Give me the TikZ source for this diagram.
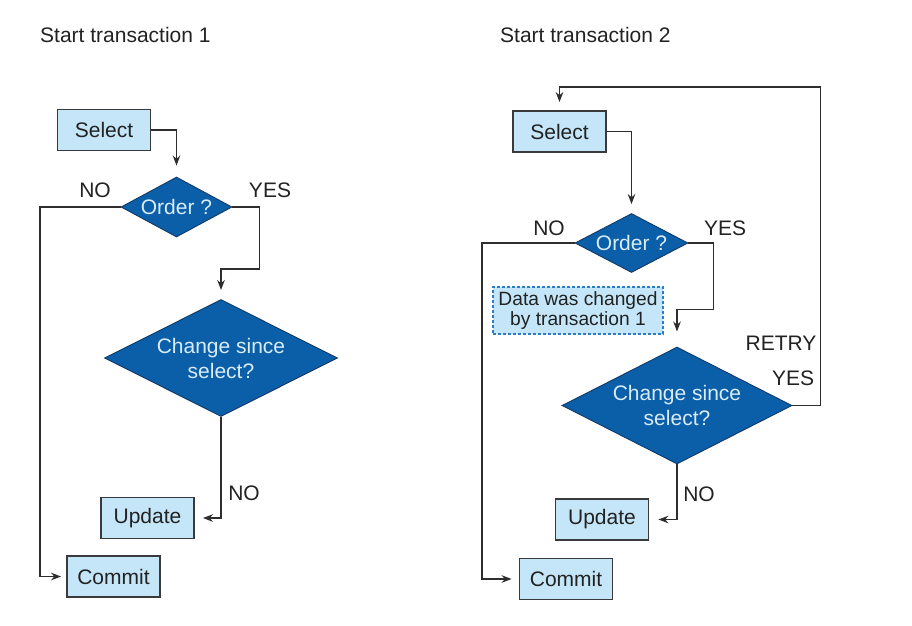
\documentclass[tikz,border=0pt]{standalone}
\usepackage{fontspec}
\setmainfont{Liberation Sans}
\usetikzlibrary{shapes.geometric,arrows.meta}
\definecolor{boxfill}{HTML}{C4E6F8}
\definecolor{boxline}{HTML}{3A3A3A}
\definecolor{diafill}{HTML}{0B5EA8}
\definecolor{diaedge}{HTML}{123A66}
\definecolor{diatext}{HTML}{D8ECFA}
\definecolor{linec}{HTML}{2E2E2E}
\definecolor{txt}{HTML}{222222}
\definecolor{dotc}{HTML}{2A7DC8}
\begin{document}
\begin{tikzpicture}[x=1pt,y=-1pt,
 font=\fontsize{21}{24}\selectfont,
 box/.style={draw=boxline,fill=boxfill,line width=1.8pt,minimum width=93pt,minimum height=41pt,inner sep=0pt,text=txt},
 dia/.style={diamond,draw=diaedge,fill=diafill,line width=0.9pt,inner sep=0pt,text=diatext,align=center,font=\fontsize{21}{25}\selectfont},
 lbl/.style={text=txt,inner sep=0pt},
 arr/.style={draw=linec,line width=1.8pt,-{Stealth[length=10pt,width=7.5pt]}},
 databox/.style={draw=dotc,fill=boxfill,line width=2.2pt,dash pattern=on 3pt off 2pt,minimum width=170pt,minimum height=47pt,inner sep=0pt,align=center,text=txt,font=\fontsize{19.2}{20}\selectfont},
]
\useasboundingbox (0,0) rectangle (912,625);

% titles
\node[lbl,anchor=west] (t1) at (40,35) {Start transaction 1};
\node[lbl,anchor=west] (t2) at (500,35) {Start transaction 2};

% left flow
\node[box] (sel1) at (104,130) {Select};
\node[dia,minimum width=111pt,minimum height=60pt,shape aspect=1.85] (ord1) at (176.5,207) {Order ?};
\node[dia,minimum width=233pt,minimum height=117pt,shape aspect=2] (chg1) at (221,358) {Change since\\select?};
\node[box] (upd1) at (147.5,518) {Update};
\node[box] (com1) at (113.5,576.5) {Commit};

\node[lbl] (no1a) at (95,190) {NO};
\node[lbl] (yes1a) at (270,190) {YES};
\node[lbl] (no1b) at (244,493) {NO};

\draw[arr,shorten >=11pt] (sel1.east) -| (ord1.north);
\draw[arr,shorten >=9pt] (ord1.east) -- ++(27,0) |- ([yshift=30pt]chg1.north) -- (chg1.north);
\draw[arr,shorten >=5pt] (ord1.west) -| ([xshift=-26pt]com1.west) -- (com1.west);
\draw[arr,shorten >=8pt] (chg1.south) |- (upd1.east);

% right flow
\node[box] (sel2) at (559.5,131.5) {Select};
\node[dia,minimum width=113pt,minimum height=59pt,shape aspect=1.9] (ord2) at (631.5,243) {Order ?};
\node[dia,minimum width=230pt,minimum height=117pt,shape aspect=2] (chg2) at (677,405.5) {Change since\\select?};
\node[box] (upd2) at (602,519.5) {Update};
\node[box] (com2) at (566,579) {Commit};
\node[databox] (data) at (578,310.5) {Data was changed\\by transaction 1};

\node[lbl] (no2a) at (549,228) {NO};
\node[lbl] (yes2a) at (725,228) {YES};
\node[lbl] (retry) at (781,343) {RETRY};
\node[lbl] (yes2b) at (793,378) {YES};
\node[lbl] (no2b) at (699,494) {NO};

\draw[arr,shorten >=9pt] (sel2.east) -| (ord2.north);
\draw[arr,shorten >=15pt] (ord2.east) -- ++(25,0) |- ([yshift=37pt]chg2.north) -- (chg2.north);
\draw[arr,shorten >=7pt] (ord2.west) -| ([xshift=-37pt]com2.west) -- (com2.west);
\draw[arr,shorten >=9pt] (chg2.south) |- (upd2.east);
\draw[arr,shorten >=8pt] (chg2.east) -- ++(28,0) |- ([yshift=23pt]sel2.north) -- (sel2.north);
\end{tikzpicture}
\end{document}
